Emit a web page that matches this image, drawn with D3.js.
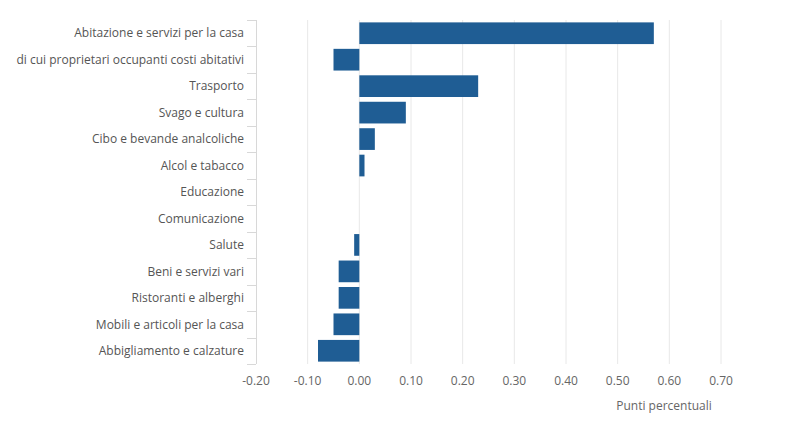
<!DOCTYPE html>
<html>
<head>
<meta charset="utf-8">
<script src="https://cdn.jsdelivr.net/npm/d3@7"></script>
<style>
  html, body { margin: 0; padding: 0; background: #fff; }
  svg text { font-family: 'Open Sans', sans-serif; }
</style>
</head>
<body>
<div id="chart"></div>
<script>
// categories, top to bottom
const categories = [
  'Abitazione e servizi per la casa',
  'di cui proprietari occupanti costi abitativi',
  'Trasporto',
  'Svago e cultura',
  'Cibo e bevande analcoliche',
  'Alcol e tabacco',
  'Educazione',
  'Comunicazione',
  'Salute',
  'Beni e servizi vari',
  'Ristoranti e alberghi',
  'Mobili e articoli per la casa',
  'Abbigliamento e calzature'
];
// contributo in punti percentuali
const values = [0.57, -0.05, 0.23, 0.09, 0.03, 0.01, 0, 0, -0.01, -0.04, -0.04, -0.05, -0.08];
const xTicks = [-0.2, -0.1, 0, 0.1, 0.2, 0.3, 0.4, 0.5, 0.6, 0.7];
const xTitle = 'Punti percentuali';

const W = 803, H = 421;
const m = { top: 20, left: 256, bottom: 57 };

const svg = d3.select('#chart').append('svg')
  .attr('width', W).attr('height', H);

const x = d3.scaleLinear().domain([-0.2, 0.7]).range([256, 721]);
const y = d3.scaleBand().domain(categories)
  .range([m.top, H - m.bottom]).paddingInner(0.18).paddingOuter(0.09);

// gridlines
svg.append('g').selectAll('line')
  .data(xTicks.filter(t => t > -0.2)).enter().append('line')
  .attr('x1', d => x(d)).attr('x2', d => x(d))
  .attr('y1', m.top).attr('y2', H - m.bottom)
  .attr('stroke', '#e8e8e8').attr('stroke-width', 1);

// bars
svg.append('g').selectAll('rect')
  .data(categories).enter().append('rect')
  .attr('x', (d, i) => x(Math.min(0, values[i])))
  .attr('width', (d, i) => Math.abs(x(values[i]) - x(0)))
  .attr('y', d => y(d))
  .attr('height', y.bandwidth())
  .attr('fill', '#1f5d94');

// y axis line with ticks at band boundaries
const yAxis = svg.append('g');
yAxis.append('line')
  .attr('x1', x(-0.2) + 0.5).attr('x2', x(-0.2) + 0.5)
  .attr('y1', m.top).attr('y2', H - m.bottom)
  .attr('stroke', '#d8d8d8');
const bounds = d3.range(categories.length + 1).map(i => m.top + i * (H - m.bottom - m.top) / categories.length);
yAxis.selectAll('line.tk').data(bounds).enter().append('line')
  .attr('class', 'tk')
  .attr('x1', x(-0.2) - 9).attr('x2', x(-0.2))
  .attr('y1', d => Math.round(d) + 0.5).attr('y2', d => Math.round(d) + 0.5)
  .attr('stroke', '#d8d8d8');
yAxis.selectAll('text').data(categories).enter().append('text')
  .attr('x', x(-0.2) - 12)
  .attr('y', d => y(d) + y.bandwidth() / 2)
  .attr('dy', '0.35em')
  .attr('text-anchor', 'end')
  .attr('font-size', 12)
  .attr('fill', '#555')
  .text(d => d);

// x axis labels (plain hyphen for negatives, as in the original)
svg.append('g').selectAll('text')
  .data(xTicks).enter().append('text')
  .attr('x', d => x(d))
  .attr('y', 385)
  .attr('text-anchor', 'middle')
  .attr('font-size', 12)
  .attr('fill', '#666')
  .text(d => d3.format('.2f')(d).replace('\u2212', '-'));

svg.append('text')
  .attr('x', 664).attr('y', 410)
  .attr('text-anchor', 'middle')
  .attr('font-size', 12)
  .attr('fill', '#666')
  .text(xTitle);
</script>
</body>
</html>
